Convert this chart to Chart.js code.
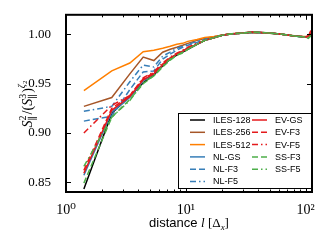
<!DOCTYPE html>
<html>
<head>
<meta charset="utf-8">
<script src="https://cdn.jsdelivr.net/npm/chart.js@4.4.0/dist/chart.umd.min.js"></script>
<style>
  html, body { margin: 0; padding: 0; background: #fff; }
  #wrap { width: 325px; height: 240px; }
</style>
</head>
<body>
<div id="wrap"><canvas id="chart"></canvas></div>
<script>
// distance l in grid units
const distances = [1.41, 2.41, 3.41, 4.41, 5.41, 6.41, 7.41, 8.41, 9.41, 10.4, 12.4, 14.4, 17.4,
                   20.4, 25.4, 30.4, 35.4, 40.4, 50.4, 60.4, 70.4, 80.4, 90.4, 100.4, 105.4, 110.4];

const iles128 = [0.843, 0.920, 0.937, 0.951, 0.959, 0.968, 0.975, 0.979, 0.982, 0.985, 0.990, 0.994, 0.997,
                 0.9995, 1.0008, 1.0015, 1.0022, 1.0020, 1.0015, 1.0005, 0.9995, 0.9985, 0.9980, 0.9975, 0.9985, 1.0000];
const iles256 = [0.927, 0.936, 0.960, 0.977, 0.9735, 0.982, 0.985, 0.987, 0.989, 0.991, 0.994, 0.996, 0.998,
                 0.9995, 1.0008, 1.0015, 1.0020, 1.0020, 1.0013, 1.0005, 0.9995, 0.9985, 0.9980, 0.9978, 0.9980, 0.9995];
const iles512 = [0.943, 0.963, 0.971, 0.9825, 0.9840, 0.986, 0.988, 0.990, 0.991, 0.993, 0.995, 0.997, 0.998,
                 0.9995, 1.0008, 1.0015, 1.0018, 1.0018, 1.0013, 1.0005, 0.9995, 0.9988, 0.9982, 0.9980, 0.9982, 0.9995];
const nlGS    = [0.857, 0.921, 0.936, 0.953, 0.960, 0.969, 0.976, 0.980, 0.983, 0.986, 0.990, 0.994, 0.997,
                 0.9995, 1.0008, 1.0015, 1.0022, 1.0020, 1.0015, 1.0005, 0.9995, 0.9985, 0.9978, 0.9975, 0.9985, 1.0005];
const nlF3    = [0.912, 0.917, 0.944, 0.962, 0.963, 0.975, 0.980, 0.984, 0.987, 0.989, 0.992, 0.995, 0.997,
                 0.9995, 1.0008, 1.0015, 1.0020, 1.0020, 1.0013, 1.0005, 0.9995, 0.9985, 0.9980, 0.9975, 0.9980, 0.9995];
const nlF5    = [0.922, 0.927, 0.952, 0.969, 0.967, 0.978, 0.982, 0.986, 0.988, 0.990, 0.993, 0.995, 0.997,
                 0.9995, 1.0008, 1.0015, 1.0020, 1.0020, 1.0013, 1.0005, 0.9995, 0.9985, 0.9980, 0.9975, 0.9978, 0.9990];
const evGS    = [0.859, 0.923, 0.937, 0.954, 0.960, 0.969, 0.976, 0.980, 0.983, 0.986, 0.990, 0.994, 0.997,
                 0.9995, 1.0010, 1.0015, 1.0025, 1.0022, 1.0015, 1.0005, 0.9995, 0.9985, 0.9980, 0.9975, 0.9980, 1.0040];
const evF3    = [0.862, 0.925, 0.938, 0.955, 0.961, 0.970, 0.976, 0.980, 0.983, 0.986, 0.990, 0.994, 0.997,
                 0.9995, 1.0010, 1.0018, 1.0025, 1.0020, 1.0015, 1.0005, 0.9995, 0.9985, 0.9980, 0.9975, 0.9985, 1.0020];
const evF5    = [0.900, 0.928, 0.938, 0.956, 0.962, 0.971, 0.977, 0.981, 0.984, 0.987, 0.991, 0.994, 0.997,
                 0.9995, 1.0008, 1.0015, 1.0022, 1.0020, 1.0015, 1.0005, 0.9995, 0.9985, 0.9980, 0.9975, 0.9985, 0.9990];
const ssF3    = [0.849, 0.916, 0.934, 0.950, 0.958, 0.967, 0.974, 0.979, 0.981, 0.985, 0.990, 0.994, 0.997,
                 0.9995, 1.0010, 1.0018, 1.0025, 1.0022, 1.0015, 1.0005, 0.9995, 0.9985, 0.9980, 0.9970, 0.9960, 0.9990];
const ssF5    = [0.866, 0.916, 0.933, 0.951, 0.958, 0.968, 0.975, 0.979, 0.982, 0.985, 0.990, 0.994, 0.997,
                 0.9995, 1.0010, 1.0015, 1.0022, 1.0020, 1.0015, 1.0005, 0.9995, 0.9985, 0.9978, 0.9972, 0.9965, 0.9985];

const xTicks = [1, 10, 100];
const yTicks = [0.85, 0.90, 0.95, 1.00];

const BLACK = '#000000', BROWN = '#a65628', ORANGE = '#ff7f00',
      BLUE = '#377eb8', RED = '#e41a1c', GREEN = '#4daf4a';
const SOLID = [], DASH = [6, 3], DASHDOT = [6, 3, 1.5, 3];

const series = [
  ['ILES-128', iles128, BLACK, SOLID],
  ['ILES-256', iles256, BROWN, SOLID],
  ['ILES-512', iles512, ORANGE, SOLID],
  ['NL-GS', nlGS, BLUE, SOLID],
  ['NL-F3', nlF3, BLUE, DASH],
  ['NL-F5', nlF5, BLUE, DASHDOT],
  ['EV-GS', evGS, RED, SOLID],
  ['EV-F3', evF3, RED, DASH],
  ['EV-F5', evF5, RED, DASHDOT],
  ['SS-F3', ssF3, GREEN, DASH],
  ['SS-F5', ssF5, GREEN, DASHDOT]
];

const datasets = series.map(([label, vals, color, dash], i) => ({
  label: label,
  data: vals.map((v, j) => ({ x: distances[j], y: v })),
  borderColor: color,
  backgroundColor: color,
  borderDash: dash,
  borderWidth: 1.5,
  pointRadius: 0,
  tension: 0,
  fill: false,
  order: series.length - i
}));

const SUP = { '0': '\u2070', '1': '\u00b9', '2': '\u00b2' };
const SERIF = '"Liberation Serif", "DejaVu Serif", serif';
const SANS = '"Liberation Sans", Arial, sans-serif';

// frame, inward ticks, inset legend and axis titles
const decorations = {
  id: 'decorations',
  afterDatasetsDraw(chart) {
    const { ctx, chartArea: a, scales: { x, y } } = chart;
    ctx.save();
    ctx.strokeStyle = '#000';
    ctx.lineWidth = 1;
    ctx.setLineDash([]);
    // x ticks top + bottom (major and minor)
    for (let k = 0; k <= 2; k++) {
      for (let m = 1; m <= 9; m++) {
        const v = m * Math.pow(10, k);
        if (v < x.min || v > x.max) continue;
        const px = Math.round(x.getPixelForValue(v)) + 0.5;
        const len = m === 1 ? 5 : 2.5;
        ctx.beginPath();
        ctx.moveTo(px, a.bottom); ctx.lineTo(px, a.bottom - len);
        ctx.moveTo(px, a.top); ctx.lineTo(px, a.top + len);
        ctx.stroke();
      }
    }
    yTicks.forEach(v => {
      const py = Math.round(y.getPixelForValue(v)) + 0.5;
      ctx.beginPath();
      ctx.moveTo(a.left, py); ctx.lineTo(a.left + 5, py);
      ctx.moveTo(a.right, py); ctx.lineTo(a.right - 5, py);
      ctx.stroke();
    });
    ctx.lineWidth = 2;
    ctx.strokeRect(a.left, a.top, a.right - a.left, a.bottom - a.top);

    // legend
    const lx = a.right - 134, ly = a.bottom - 79, lw = 133, lh = 75;
    ctx.fillStyle = '#fff';
    ctx.fillRect(lx, ly, lw, lh);
    ctx.lineWidth = 1;
    ctx.strokeStyle = '#000';
    ctx.strokeRect(lx + 0.5, ly + 0.5, lw, lh);
    ctx.font = '9px ' + SANS;
    ctx.textBaseline = 'middle';
    ctx.textAlign = 'left';
    chart.data.datasets.forEach((ds, i) => {
      const col = i < 6 ? 0 : 1;
      const row = i < 6 ? i : i - 6;
      const x0 = lx + 12 + col * 62;
      const yy = ly + 7 + row * 12.3;
      ctx.strokeStyle = ds.borderColor;
      ctx.lineWidth = 1.5;
      ctx.setLineDash(ds.borderDash);
      ctx.beginPath();
      ctx.moveTo(x0, yy); ctx.lineTo(x0 + 15, yy);
      ctx.stroke();
      ctx.setLineDash([]);
      ctx.fillStyle = '#000';
      ctx.fillText(ds.label, x0 + 23, yy + 0.5);
    });

    // x title: distance l [Δx]
    const parts = [
      ['distance ', '13px ' + SANS, 0],
      ['l', 'italic 13px ' + SERIF, 0],
      [' [\u0394', '13px ' + SERIF, 0],
      ['x', 'italic 9px ' + SERIF, 3],
      [']', '13px ' + SERIF, 0]
    ];
    ctx.textBaseline = 'alphabetic';
    let tw = 0;
    parts.forEach(p => { ctx.font = p[1]; tw += ctx.measureText(p[0]).width; });
    let cx = (a.left + a.right) / 2 - tw / 2;
    parts.forEach(p => {
      ctx.font = p[1];
      ctx.fillText(p[0], cx, 227 + p[2]);
      cx += ctx.measureText(p[0]).width;
    });

    // y title: S_par^2 / (S_par^3)^zeta2
    ctx.translate(32, 104);
    ctx.rotate(-Math.PI / 2);
    const big = 'italic 14px ' + SERIF, rom = '14px ' + SERIF, small = '10px ' + SERIF;
    const items = [
      { t: 'S', f: big },
      { sup: '2', sub: '\u2225' },
      { t: '/(', f: rom },
      { t: 'S', f: big },
      { sup: '3', sub: '\u2225' },
      { t: ')', f: rom },
      { t: '\u03b6', f: 'italic 10px ' + SERIF, dy: -7 },
      { t: '2', f: '7px ' + SERIF, dy: -5 }
    ];
    const widthOf = it => {
      if (it.t) { ctx.font = it.f; return ctx.measureText(it.t).width; }
      ctx.font = small;
      return Math.max(ctx.measureText(it.sup).width, ctx.measureText(it.sub).width) + 1;
    };
    let total = 0;
    items.forEach(it => { total += widthOf(it); });
    let px = -total / 2;
    items.forEach(it => {
      const w = widthOf(it);
      if (it.t) {
        ctx.font = it.f;
        ctx.fillText(it.t, px, it.dy || 0);
      } else {
        ctx.font = small;
        ctx.fillText(it.sup, px, -6);
        ctx.fillText(it.sub, px, 4);
      }
      px += w;
    });
    ctx.restore();
  }
};

new Chart(document.querySelector('#chart'), {
  type: 'line',
  data: { datasets: datasets },
  options: {
    responsive: true,
    maintainAspectRatio: false,
    animation: false,
    layout: { padding: { top: 10, right: 13, left: 0, bottom: 0 } },
    plugins: { legend: { display: false }, tooltip: { enabled: false } },
    scales: {
      x: {
        type: 'logarithmic',
        min: 1,
        max: 113,
        afterBuildTicks: s => { s.ticks = xTicks.map(v => ({ value: v })); },
        afterFit: s => { s.height = 48; },
        grid: { display: false },
        border: { display: false },
        ticks: {
          autoSkip: false,
          maxRotation: 0,
          padding: 2,
          color: '#000',
          font: { family: SERIF, size: 14 },
          callback: v => '10' + SUP[String(Math.round(Math.log10(v)))]
        }
      },
      y: {
        min: 0.84,
        max: 1.02,
        afterBuildTicks: s => { s.ticks = yTicks.map(v => ({ value: v })); },
        afterFit: s => { s.width = 66; },
        grid: { display: false },
        border: { display: false },
        ticks: {
          padding: 7,
          color: '#000',
          font: { family: SERIF, size: 13 },
          callback: v => v.toFixed(2)
        }
      }
    }
  },
  plugins: [decorations]
});
</script>
</body>
</html>
